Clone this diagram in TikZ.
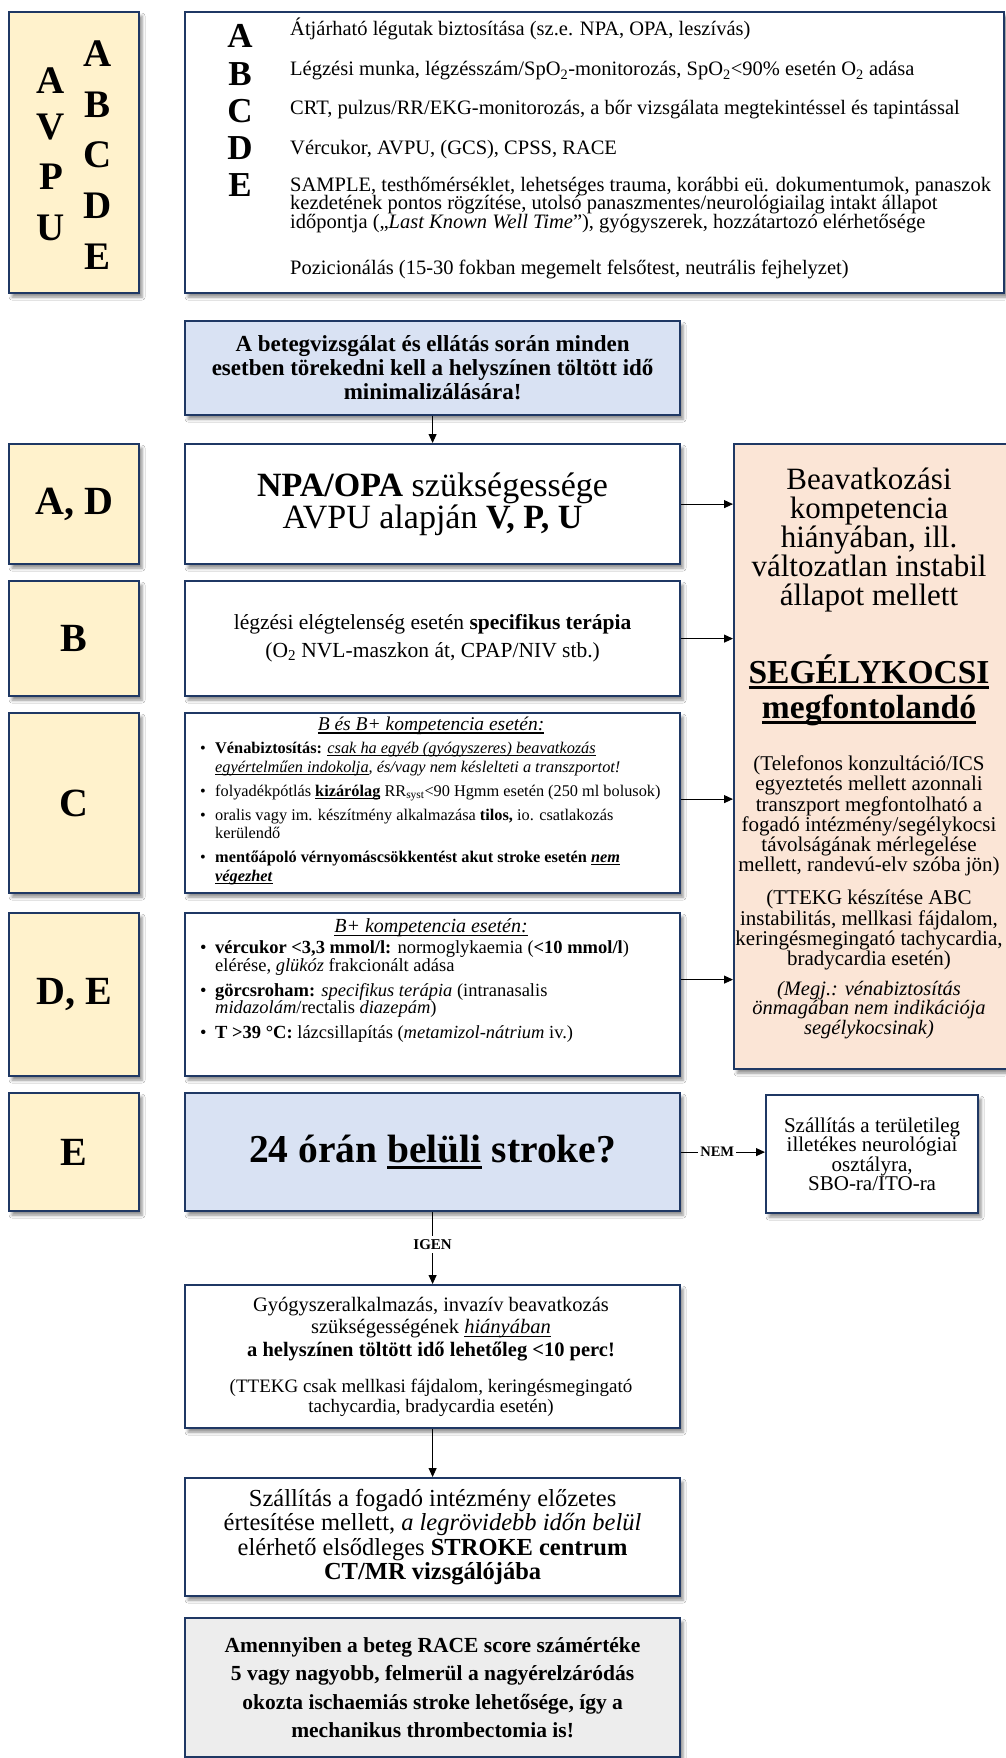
\documentclass[tikz,border=0pt]{standalone}
\usepackage{fontspec}
\setmainfont{Liberation Serif}
\usetikzlibrary{arrows.meta,shadows.blur}
\definecolor{navy}{HTML}{1F3864}
\definecolor{cream}{HTML}{FFF2CC}
\definecolor{lblue}{HTML}{D9E2F3}
\definecolor{pinkish}{HTML}{FBE5D6}
\definecolor{lgray}{HTML}{EDEDED}
\newcommand\fs[2]{\fontsize{#1pt}{#2pt}\selectfont}
\newsavebox\ulbox
\newcommand\myul[2][0.07em]{\sbox\ulbox{#2}\rlap{\rule[-0.16em]{\wd\ulbox}{#1}}\usebox\ulbox}
\newcommand\bul{\makebox[15pt][l]{\textbullet}}
\newcommand\ind{\hspace*{15pt}}
\begin{document}
\begin{tikzpicture}[x=1pt,y={(0pt,-1pt)},
  box/.style={draw=navy, line width=2.2pt, anchor=north west, inner sep=0pt,
    blur shadow={shadow xshift=3pt, shadow yshift=-4pt, shadow blur radius=3pt, shadow opacity=45}},
  lab/.style={box, fill=cream, minimum width=130pt, font=\fs{40}{44}\bfseries},
  conn/.style={line width=0.9pt, -{Triangle[length=9pt,width=8pt]}},
  ttxt/.style={anchor=base west, inner sep=0pt, font=\fs{20.5}{20.5}},
  tlet/.style={inner sep=0pt, font=\fs{35}{35}\bfseries},
  alet/.style={inner sep=0pt, font=\fs{39}{39}\bfseries},
  ctr/.style={align=center, inner sep=0pt},
]
\useasboundingbox (0,0) rectangle (1005,1758);
\fill[white] (0,0) rectangle (1005,1758);

% ---------- top row ----------
\node[box, fill=cream, minimum width=130pt, minimum height=281pt] (avpu) at (8,11) {};
\node[alet] (av1) at (51,81) {A};
\node[alet] (av2) at (51,127) {V};
\node[alet] (av3) at (51,177) {P};
\node[alet] (av4) at (51,228) {U};
\node[alet] (ab1) at (98,54) {A};
\node[alet] (ab2) at (98,105) {B};
\node[alet] (ab3) at (98,155) {C};
\node[alet] (ab4) at (98,206) {D};
\node[alet] (ab5) at (98,257) {E};

\node[box, fill=white, minimum width=819pt, minimum height=281pt] (abcde) at (184,11) {};
\node[tlet] (la) at (240,36) {A};
\node[tlet] (lb2) at (240,74) {B};
\node[tlet] (lc2) at (240,111) {C};
\node[tlet] (ld) at (240,148) {D};
\node[tlet] (le2) at (240,185) {E};
\node[ttxt] (ta) at (290,36) {Átjárható légutak biztosítása (sz.e. NPA, OPA, leszívás)};
\node[ttxt] (tb) at (290,76) {Légzési munka, légzésszám/SpO\textsubscript{2}-monitorozás, SpO\textsubscript{2}<90\% esetén O\textsubscript{2} adása};
\node[ttxt] (tc) at (290,115) {CRT, pulzus/RR/EKG-monitorozás, a bőr vizsgálata megtekintéssel és tapintással};
\node[ttxt] (td) at (290,154) {Vércukor, AVPU, (GCS), CPSS, RACE};
\node[ttxt] (te1) at (290,191) {SAMPLE, testhőmérséklet, lehetséges trauma, korábbi eü. dokumentumok, panaszok};
\node[ttxt] (te2) at (290,209.5) {kezdetének pontos rögzítése, utolsó panaszmentes/neurológiailag intakt állapot};
\node[ttxt] (te3) at (290,228) {időpontja („\textit{Last Known Well Time}”), gyógyszerek, hozzátartozó elérhetősége};
\node[ttxt] (tp) at (290,274) {Pozicionálás (15-30 fokban megemelt felsőtest, neutrális fejhelyzet)};

% ---------- blue header ----------
\node[box, fill=lblue, minimum width=495pt, minimum height=94pt, align=center, font=\fs{23}{24}\bfseries] (blue1) at (184,320)
  {A betegvizsgálat és ellátás során minden\\esetben törekedni kell a helyszínen töltött idő\\minimalizálására!};

% ---------- row A,D ----------
\node[lab, minimum height=120pt] (lad) at (8,443) {A, D};
\node[box, fill=white, minimum width=495pt, minimum height=120pt, align=center, font=\fs{34}{32}] (npa) at (184,443)
  {\textbf{NPA/OPA} szükségessége\\AVPU alapján \textbf{V, P, U}};

% ---------- row B ----------
\node[lab, minimum height=115pt] (lb) at (8,580) {B};
\node[box, fill=white, minimum width=495pt, minimum height=115pt, align=center, font=\fs{21.5}{28}] (bbox) at (184,580)
  {légzési elégtelenség esetén \textbf{specifikus terápia}\\(O\textsubscript{2} NVL-maszkon át, CPAP/NIV stb.)};

% ---------- row C ----------
\node[lab, minimum height=180pt] (lc) at (8,712) {C};
\node[box, fill=white, minimum width=495pt, minimum height=180pt] (cbox) at (184,712) {};
\node[inner sep=0pt, font=\fs{19.5}{20}\itshape] (ctitle) at (431,726) {\myul{B és B+ kompetencia esetén:}};
\node[anchor=north west, inner sep=0pt, align=left, font=\fs{16.3}{18.5}] (clist) at (200,742)
  {\bul\textbf{Vénabiztosítás:} \myul{\textit{csak ha egyéb (gyógyszeres) beavatkozás}}\\
   \ind\myul{\textit{egyértelműen indokolja}}\textit{, és/vagy nem késlelteti a transzportot!}\\[5.5pt]
   \bul folyadékpótlás \myul{\textbf{kizárólag}} RR\textsubscript{syst}<90 Hgmm esetén (250 ml bolusok)\\[5.5pt]
   \bul oralis vagy im. készítmény alkalmazása \textbf{tilos,} io. csatlakozás\\
   \ind kerülendő\\[5.5pt]
   \bul\textbf{mentőápoló vérnyomáscsökkentést akut stroke esetén \myul{\textit{nem}}}\\
   \ind\textbf{\myul{\textit{végezhet}}}};

% ---------- row D,E ----------
\node[lab, minimum height=163pt] (lde) at (8,912) {D, E};
\node[box, fill=white, minimum width=495pt, minimum height=163pt] (debox) at (184,912) {};
\node[inner sep=0pt, font=\fs{20}{20}\itshape] (detitle) at (431,928) {\myul{B+ kompetencia esetén:}};
\node[anchor=north west, inner sep=0pt, align=left, font=\fs{18.5}{16.5}] (delist) at (200,940)
  {\bul\textbf{vércukor <3,3 mmol/l:} normoglykaemia (\textbf{<10 mmol/l})\\
   \ind elérése, \textit{glükóz} frakcionált adása\\[7pt]
   \bul\textbf{görcsroham:} \textit{specifikus terápia} (intranasalis\\
   \ind\textit{midazolám}/rectalis \textit{diazepám})\\[7pt]
   \bul\textbf{T >39 °C:} lázcsillapítás (\textit{metamizol-nátrium} iv.)};

% ---------- pink box ----------
\node[box, fill=pinkish, minimum width=276pt, minimum height=625pt] (pink) at (733,443) {};
\node[ctr, font=\fs{31}{29}] (p1) at (869,540) {Beavatkozási\\kompetencia\\hiányában, ill.\\változatlan instabil\\állapot mellett};
\node[ctr, font=\fs{33.5}{35}\bfseries] (p2) at (869,690) {\myul[2.2pt]{SEGÉLYKOCSI}\\\myul[2.2pt]{megfontolandó}};
\node[ctr, font=\fs{21}{18.2}] (p3) at (869,816) {(Telefonos konzultáció/ICS\\egyeztetés mellett azonnali\\transzport megfontolható a\\fogadó intézmény/segélykocsi\\távolságának mérlegelése\\mellett, randevú-elv szóba jön)};
\node[ctr, font=\fs{21}{18.2}] (p4) at (869,930) {(TTEKG készítése ABC\\instabilitás, mellkasi fájdalom,\\keringésmegingató tachycardia,\\bradycardia esetén)};
\node[ctr, font=\fs{20.5}{18.5}\itshape] (p5) at (869,1010) {(Megj.: vénabiztosítás\\önmagában nem indikációja\\segélykocsinak)};

% ---------- row E ----------
\node[lab, minimum height=118pt] (le) at (8,1092) {E};
\node[box, fill=lblue, minimum width=495pt, minimum height=118pt, font=\fs{39.5}{40}\bfseries] (stroke) at (184,1092)
  {24 órán \myul[2.6pt]{belüli} stroke?};
\node[box, fill=white, minimum width=212pt, minimum height=118pt, align=center, font=\fs{21}{19.5}] (nem) at (765,1094)
  {Szállítás a területileg\\illetékes neurológiai\\osztályra,\\SBO-ra/ITO-ra};

% ---------- bottom chain ----------
\node[box, fill=white, minimum width=495pt, minimum height=143pt] (gyogy) at (184,1284) {};
\node[ctr, font=\fs{20.5}{22.5}] (g1) at (431,1329) {Gyógyszeralkalmazás, invazív beavatkozás\\szükségességének \myul{\textit{hiányában}}\\\textbf{a helyszínen töltött idő lehetőleg <10 perc!}};
\node[ctr, font=\fs{19}{20}] (g2) at (431,1398) {(TTEKG csak mellkasi fájdalom, keringésmegingató\\tachycardia, bradycardia esetén)};

\node[box, fill=white, minimum width=495pt, minimum height=118pt, align=center, font=\fs{24.5}{24.5}] (szall) at (184,1477)
  {Szállítás a fogadó intézmény előzetes\\értesítése mellett, \textit{a legrövidebb időn belül}\\elérhető elsődleges \textbf{STROKE centrum}\\\textbf{CT/MR vizsgálójába}};

\node[box, fill=lgray, minimum width=495pt, minimum height=139pt, align=center, font=\fs{21.5}{28.5}\bfseries] (race) at (184,1617)
  {Amennyiben a beteg RACE score számértéke\\5 vagy nagyobb, felmerül a nagyérelzáródás\\okozta ischaemiás stroke lehetősége, így a\\mechanikus thrombectomia is!};

% ---------- connectors ----------
\draw[conn] (blue1.south) -- (npa.north);
\draw[conn] (npa.east) -- (npa.east -| pink.west);
\draw[conn] (bbox.east) -- (bbox.east -| pink.west);
\draw[conn] ([yshift=4pt]cbox.east) -- ([yshift=4pt]cbox.east -| pink.west);
\draw[conn] ([yshift=15pt]debox.east) -- ([yshift=15pt]debox.east -| pink.west);
\draw[conn] (stroke.east) -- node[pos=0.43, fill=white, inner sep=2pt, font=\fs{14.5}{16}\bfseries] (nemlab) {NEM} (stroke.east -| nem.west);
\draw[conn] (stroke.south) -- node[pos=0.45, fill=white, inner sep=3pt, font=\fs{15}{17}\bfseries] (igenlab) {IGEN} (gyogy.north);
\draw[conn] (gyogy.south) -- (szall.north);
\end{tikzpicture}
\end{document}
